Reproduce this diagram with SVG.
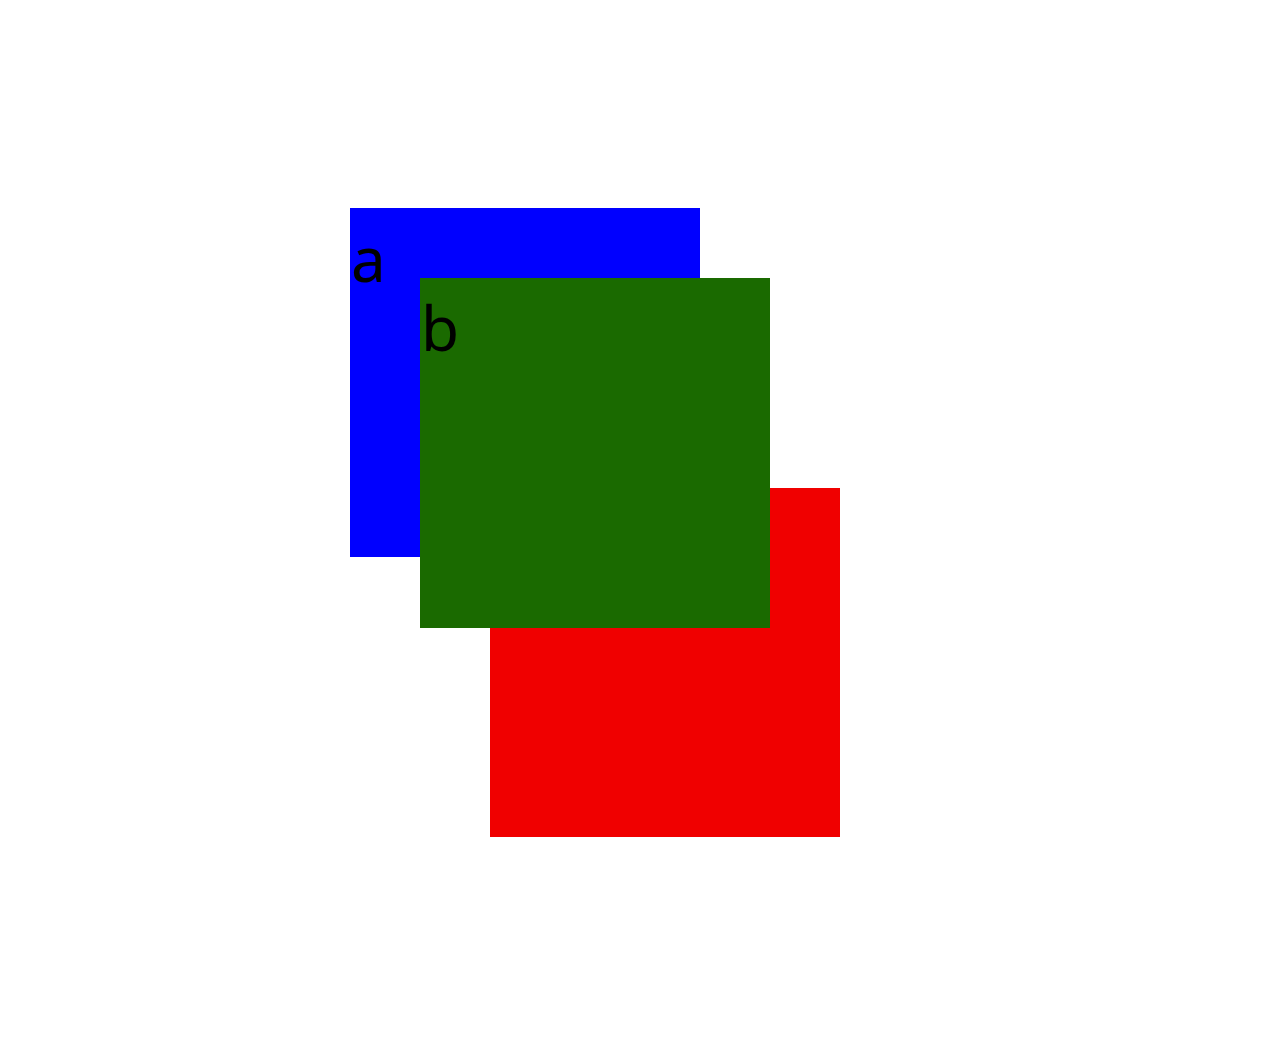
<svg xmlns="http://www.w3.org/2000/svg" width="1264" height="1052" viewBox="0 0 1264 1052">
<style>
.lbl{font-family:"Noto Sans","Open Sans","DejaVu Sans",sans-serif;font-size:62px;fill:#000}
</style>
<rect width="1264" height="1052" fill="#ffffff"/>
<g id="node-red"><rect x="490" y="488" width="350" height="349" fill="#f00000"/></g>
<g id="node-a"><rect x="350" y="208" width="350" height="349" fill="#0000ff"/><text class="lbl" x="351" y="282">a</text></g>
<g id="node-b"><rect x="420" y="278" width="350" height="350" fill="#1a6a00"/><text class="lbl" x="421" y="351">b</text></g>
<g id="connectors"></g>
</svg>
